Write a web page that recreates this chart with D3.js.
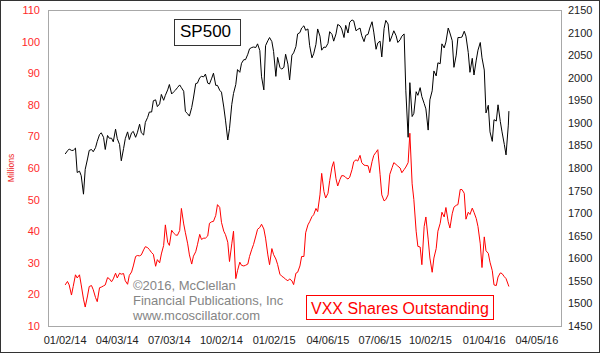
<!DOCTYPE html>
<html>
<head>
<meta charset="utf-8">
<script src="https://cdn.jsdelivr.net/npm/d3@7"></script>
<style>
  body { margin: 0; background: #fff; }
  svg { display: block; font-family: "Liberation Sans", Arial, sans-serif; }
</style>
</head>
<body>
<div id="chart"></div>
<script>
// twice-weekly samples (Tue / Fri)
const dates = [
  "2014-01-03","2014-01-07","2014-01-10","2014-01-14","2014-01-17","2014-01-21","2014-01-24","2014-01-28","2014-01-31",
  "2014-02-04","2014-02-07","2014-02-11","2014-02-14","2014-02-18","2014-02-21","2014-02-25","2014-02-28",
  "2014-03-04","2014-03-07","2014-03-11","2014-03-14","2014-03-18","2014-03-21","2014-03-25","2014-03-28",
  "2014-04-01","2014-04-04","2014-04-08","2014-04-11","2014-04-15","2014-04-18","2014-04-22","2014-04-25","2014-04-29",
  "2014-05-02","2014-05-06","2014-05-09","2014-05-13","2014-05-16","2014-05-20","2014-05-23","2014-05-27","2014-05-30",
  "2014-06-03","2014-06-06","2014-06-10","2014-06-13","2014-06-17","2014-06-20","2014-06-24","2014-06-27",
  "2014-07-01","2014-07-04","2014-07-08","2014-07-11","2014-07-15","2014-07-18","2014-07-22","2014-07-25","2014-07-29",
  "2014-08-01","2014-08-05","2014-08-08","2014-08-12","2014-08-15","2014-08-19","2014-08-22","2014-08-26","2014-08-29",
  "2014-09-02","2014-09-05","2014-09-09","2014-09-12","2014-09-16","2014-09-19","2014-09-23","2014-09-26","2014-09-30",
  "2014-10-03","2014-10-07","2014-10-10","2014-10-14","2014-10-17","2014-10-21","2014-10-24","2014-10-28","2014-10-31",
  "2014-11-04","2014-11-07","2014-11-11","2014-11-14","2014-11-18","2014-11-21","2014-11-25","2014-11-28",
  "2014-12-02","2014-12-05","2014-12-09","2014-12-12","2014-12-16","2014-12-19","2014-12-23","2014-12-26","2014-12-30",
  "2015-01-02","2015-01-06","2015-01-09","2015-01-13","2015-01-16","2015-01-20","2015-01-23","2015-01-27","2015-01-30",
  "2015-02-03","2015-02-06","2015-02-10","2015-02-13","2015-02-17","2015-02-20","2015-02-24","2015-02-27",
  "2015-03-03","2015-03-06","2015-03-10","2015-03-13","2015-03-17","2015-03-20","2015-03-24","2015-03-27","2015-03-31",
  "2015-04-03","2015-04-07","2015-04-10","2015-04-14","2015-04-17","2015-04-21","2015-04-24","2015-04-28",
  "2015-05-01","2015-05-05","2015-05-08","2015-05-12","2015-05-15","2015-05-19","2015-05-22","2015-05-26","2015-05-29",
  "2015-06-02","2015-06-05","2015-06-09","2015-06-12","2015-06-16","2015-06-19","2015-06-23","2015-06-26","2015-06-30",
  "2015-07-03","2015-07-07","2015-07-10","2015-07-14","2015-07-17","2015-07-21","2015-07-24","2015-07-28","2015-07-31",
  "2015-08-04","2015-08-07","2015-08-11","2015-08-14","2015-08-18","2015-08-21","2015-08-25","2015-08-28",
  "2015-09-01","2015-09-04","2015-09-08","2015-09-11","2015-09-15","2015-09-18","2015-09-22","2015-09-25","2015-09-29",
  "2015-10-02","2015-10-06","2015-10-09","2015-10-13","2015-10-16","2015-10-20","2015-10-23","2015-10-27","2015-10-30",
  "2015-11-03","2015-11-06","2015-11-10","2015-11-13","2015-11-17","2015-11-20","2015-11-24","2015-11-27",
  "2015-12-01","2015-12-04","2015-12-08","2015-12-11","2015-12-15","2015-12-18","2015-12-22","2015-12-25","2015-12-29",
  "2016-01-01","2016-01-05","2016-01-08","2016-01-12","2016-01-15","2016-01-19","2016-01-22","2016-01-26","2016-01-29",
  "2016-02-02","2016-02-05","2016-02-09","2016-02-12","2016-02-16","2016-02-17"
];

// VXX shares outstanding, millions (left axis)
const vxxShares = [
  23.0,24.1,23.0,19.8,22.5,26.2,25.2,26.2,23.0,
  18.5,16.0,19.5,22.5,22.8,21.5,19.0,17.7,
  22.1,22.3,22.7,23.0,25.3,25.0,24.0,24.9,
  26.7,25.2,26.7,26.4,26.6,24.3,23.2,26.0,27.1,
  29.0,32.0,32.3,32.2,32.5,34.1,35.1,34.8,34.2,
  33.2,32.7,28.9,31.0,30.0,32.8,35.5,42.0,
  36.5,35.5,40.3,39.5,38.8,38.7,40.2,47.2,42.3,
  39.5,36.0,32.5,29.6,32.1,33.5,35.7,39.0,37.4,
  37.8,37.8,38.5,42.5,43.0,43.1,45.0,48.4,47.5,
  42.8,40.0,38.9,36.5,30.4,36.0,40.0,25.0,27.5,
  30.2,29.2,29.0,29.2,29.6,32.0,34.3,35.8,
  38.5,40.6,41.2,42.2,40.7,37.8,32.5,29.4,34.5,
  32.6,31.2,29.5,26.4,25.8,25.3,24.8,24.3,24.9,
  24.3,23.1,26.7,27.0,29.0,32.0,32.0,39.5,
  42.0,43.0,44.6,45.2,47.2,46.2,51.5,58.3,52.5,
  50.5,52.0,56.0,60.3,62.0,56.6,54.3,56.4,
  57.6,57.5,57.0,56.5,57.1,59.5,62.0,62.6,62.2,
  64.0,61.7,60.9,60.8,60.7,58.5,62.0,64.0,65.0,
  65.8,58.0,51.5,49.6,50.0,51.5,58.0,60.1,61.7,
  61.1,60.6,60.0,58.5,59.5,60.3,61.7,71.0,
  55.0,50.0,40.0,35.2,35.0,29.4,41.5,44.5,37.5,
  31.5,27.0,31.5,34.5,40.0,42.5,46.0,44.5,47.5,
  43.0,41.0,45.5,47.6,48.2,48.4,53.2,53.2,
  52.0,43.8,46.0,45.3,47.3,46.0,44.0,41.5,36.0,
  28.5,38.2,33.8,33.0,30.2,27.5,23.0,22.8,25.5,
  26.8,26.6,25.6,25.0,23.0,22.5
];

// S&P 500 close (right axis)
const sp500 = [
  1831,1838,1842,1839,1839,1844,1790,1793,1783,
  1742,1797,1820,1839,1841,1836,1845,1859,
  1874,1878,1868,1841,1872,1866,1866,1858,
  1886,1865,1852,1816,1843,1865,1880,1863,1878,
  1881,1868,1878,1897,1878,1873,1901,1912,1924,
  1924,1949,1951,1936,1942,1963,1950,1961,
  1973,1985,1964,1968,1973,1978,1984,1978,1970,
  1925,1920,1915,1934,1955,1987,1988,2000,2003,
  2002,2008,1988,1986,1999,2010,1983,1983,1972,
  1968,1935,1906,1862,1887,1941,1965,1985,2018,
  2012,2032,2040,2040,2052,2064,2067,2068,
  2067,2075,2060,2002,1973,2071,2082,2089,2080,
  2058,2003,2045,2023,2019,2023,2052,2030,1995,
  2050,2055,2069,2097,2100,2110,2115,2105,
  2108,2071,2044,2053,2074,2108,2092,2061,2068,
  2067,2076,2102,2096,2081,2097,2118,2115,
  2108,2089,2116,2099,2123,2128,2126,2104,2107,
  2110,2093,2080,2094,2096,2110,2124,2101,2063,
  2077,2081,2046,2109,2127,2119,2080,2093,2104,
  2093,2078,2084,2092,2097,1971,1868,1989,
  1914,1921,1969,1961,1978,1958,1943,1931,1884,
  1951,1971,2015,2004,2033,2031,2075,2066,2079,
  2110,2099,2082,2023,2050,2089,2089,2090,
  2103,2092,2056,2012,2043,2006,2039,2061,2078,
  2044,2017,1922,1939,1880,1859,1907,1904,1940,
  1903,1880,1852,1829,1895,1926
];

const xTickDates = ["2014-01-02","2014-04-03","2014-07-03","2014-10-02","2015-01-02",
                    "2015-04-06","2015-07-06","2015-10-02","2016-01-04","2016-04-05"];
const leftTicks = [10,20,30,40,50,60,70,80,90,100,110];
const rightTicks = [1450,1500,1550,1600,1650,1700,1750,1800,1850,1900,1950,2000,2050,2100,2150];

const width = 600, height = 353;
const margin = {top: 10, right: 39, bottom: 27, left: 48};
const plotW = width - margin.left - margin.right;
const plotH = height - margin.top - margin.bottom;

const parse = d3.timeParse("%Y-%m-%d");
const days = dates.map(parse);

const svg = d3.select("#chart")
  .append("svg")
  .attr("width", width)
  .attr("height", height);

// outer frame
svg.append("rect")
  .attr("x", 0.5).attr("y", 0.5)
  .attr("width", width - 1).attr("height", height - 1)
  .attr("fill", "#fff")
  .attr("stroke", "#333");

const g = svg.append("g")
  .attr("transform", "translate(" + margin.left + "," + margin.top + ")");

// scales
const x = d3.scaleTime()
  .domain([parse("2013-12-04"), parse("2016-05-18")])
  .range([0, plotW]);

const yLeft = d3.scaleLinear().domain([10, 110]).range([plotH, 0]);
const yRight = d3.scaleLinear().domain([1450, 2150]).range([plotH, 0]);

// plot border
g.append("rect")
  .attr("x", 0.5).attr("y", 0.5)
  .attr("width", plotW).attr("height", plotH)
  .attr("fill", "none")
  .attr("stroke", "#a8a8a8");

// axes
const xAxis = g.append("g")
  .attr("transform", "translate(0," + plotH + ")")
  .call(d3.axisBottom(x)
    .tickValues(xTickDates.map(parse))
    .tickFormat(d3.timeFormat("%m/%d/%y"))
    .tickSize(0)
    .tickPadding(10));

const leftAxis = g.append("g")
  .call(d3.axisLeft(yLeft).tickValues(leftTicks).tickSize(0).tickPadding(8));

const rightAxis = g.append("g")
  .attr("transform", "translate(" + plotW + ",0)")
  .call(d3.axisRight(yRight)
    .tickValues(rightTicks)
    .tickFormat(d3.format("d"))
    .tickSize(0)
    .tickPadding(7));

[xAxis, leftAxis, rightAxis].forEach(a => {
  a.select(".domain").remove();
  a.selectAll("text").attr("font-family", "Liberation Sans, Arial, sans-serif").attr("font-size", 11);
});
xAxis.selectAll("text").attr("fill", "#222");
rightAxis.selectAll("text").attr("fill", "#222");
leftAxis.selectAll("text").attr("fill", "#ff2a2a");

// left axis title
svg.append("text")
  .attr("transform", "translate(14,168) rotate(-90)")
  .attr("text-anchor", "middle")
  .attr("font-size", 8.5)
  .attr("fill", "#ee2020")
  .text("Millions");

// copyright block
const credit = ["\u00a92016, McClellan", "Financial Publications, Inc", "www.mcoscillator.com"];
svg.selectAll(".credit")
  .data(credit)
  .enter()
  .append("text")
  .attr("class", "credit")
  .attr("x", 133)
  .attr("y", (d, i) => 290 + i * 15)
  .attr("font-size", 13)
  .attr("fill", "#858585")
  .text(d => d);

// series lines
const vxxLine = d3.line()
  .x((d, i) => x(days[i]))
  .y(d => yLeft(d));

const spLine = d3.line()
  .x((d, i) => x(days[i]))
  .y(d => yRight(d));

g.append("path")
  .datum(vxxShares)
  .attr("fill", "none")
  .attr("stroke", "#ff0000")
  .attr("stroke-width", 1)
  .attr("d", vxxLine);

g.append("path")
  .datum(sp500)
  .attr("fill", "none")
  .attr("stroke", "#000")
  .attr("stroke-width", 1)
  .attr("d", spLine);

// SP500 label box
svg.append("rect")
  .attr("x", 174.5).attr("y", 19.5)
  .attr("width", 66).attr("height", 26)
  .attr("fill", "#fff")
  .attr("stroke", "#333");
svg.append("text")
  .attr("x", 180).attr("y", 36.5)
  .attr("font-size", 17)
  .attr("fill", "#000")
  .text("SP500");

// VXX label box
svg.append("rect")
  .attr("x", 306.5).attr("y", 295.5)
  .attr("width", 187).attr("height", 24)
  .attr("fill", "#fff")
  .attr("stroke", "#ff0000");
svg.append("text")
  .attr("x", 311).attr("y", 314)
  .attr("font-size", 16)
  .attr("fill", "#ff0000")
  .text("VXX Shares Outstanding");
</script>
</body>
</html>
